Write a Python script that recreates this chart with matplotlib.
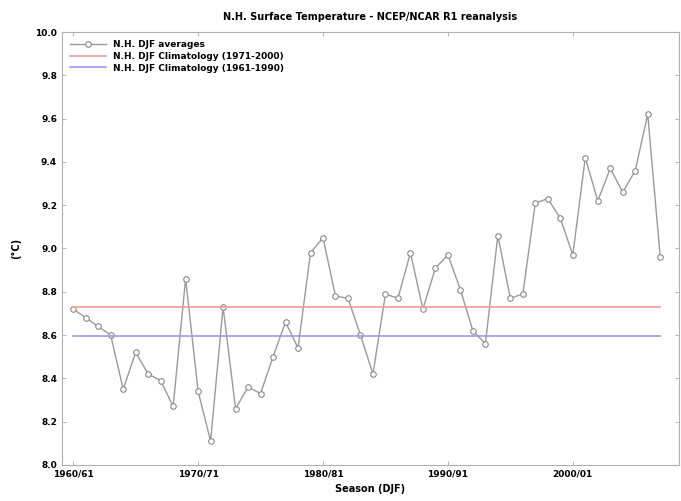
import numpy as np
import matplotlib
matplotlib.use('Agg')
import matplotlib.pyplot as plt

# DJF seasons 1960/61 .. 2007/08
start_years = list(range(1960, 2008))
seasons = [f"{y}/{str(y + 1)[-2:]}" for y in start_years]

djf_avg = [8.72, 8.68, 8.64, 8.60, 8.35, 8.52, 8.42, 8.39, 8.27, 8.86,
           8.34, 8.11, 8.73, 8.26, 8.36, 8.33, 8.50, 8.66, 8.54, 8.98,
           9.05, 8.78, 8.77, 8.60, 8.42, 8.79, 8.77, 8.98, 8.72, 8.91,
           8.97, 8.81, 8.62, 8.56, 9.06, 8.77, 8.79, 9.21, 9.23, 9.14,
           8.97, 9.42, 9.22, 9.37, 9.26, 9.36, 9.62, 8.96]

clim_7100 = 8.73
clim_6190 = 8.595

tick_seasons = ['1960/61', '1970/71', '1980/81', '1990/91', '2000/01']

x = np.arange(len(seasons))

fig = plt.figure(figsize=(6.81, 5.01), dpi=100)
ax = fig.add_axes([0.091, 0.072, 0.906, 0.864])

ax.plot(x, djf_avg, color='#9a9a9a', lw=1.0, marker='o', ms=4,
        mfc='white', mec='#8a8a8a', mew=0.8, label='N.H. DJF averages')
ax.plot([x[0], x[-1]], [clim_7100, clim_7100], color='#f49a9a', lw=1.2,
        label='N.H. DJF Climatology (1971-2000)')
ax.plot([x[0], x[-1]], [clim_6190, clim_6190], color='#9a9af4', lw=1.2,
        label='N.H. DJF Climatology (1961-1990)')

ax.set_xlim(-0.9, 48.5)
ax.set_ylim(8.0, 10.0)
ax.set_yticks(np.arange(8.0, 10.01, 0.2))
ax.set_yticklabels([f"{v:.1f}" for v in np.arange(8.0, 10.01, 0.2)])
ax.set_xticks([seasons.index(s) for s in tick_seasons])
ax.set_xticklabels(tick_seasons)

ax.tick_params(direction='in', length=3, width=0.6, color='#aaaaaa',
               top=True, right=True, labelsize=6.5)
for lab in ax.get_xticklabels() + ax.get_yticklabels():
    lab.set_fontweight('bold')
for sp in ax.spines.values():
    sp.set_color('#b0b0b0')
    sp.set_linewidth(0.8)

ax.set_title('N.H. Surface Temperature - NCEP/NCAR R1 reanalysis',
             fontsize=7, fontweight='bold', pad=9)
ax.set_xlabel('Season (DJF)', fontsize=7, fontweight='bold', labelpad=4)
ax.set_ylabel('(°C)', fontsize=7, fontweight='bold', labelpad=10)

ax.legend(loc='upper left', frameon=False, prop={'size': 6.5, 'weight': 'bold'},
          handlelength=4, borderaxespad=0.5, labelspacing=0.3)

fig.savefig('out.png', dpi=100)
